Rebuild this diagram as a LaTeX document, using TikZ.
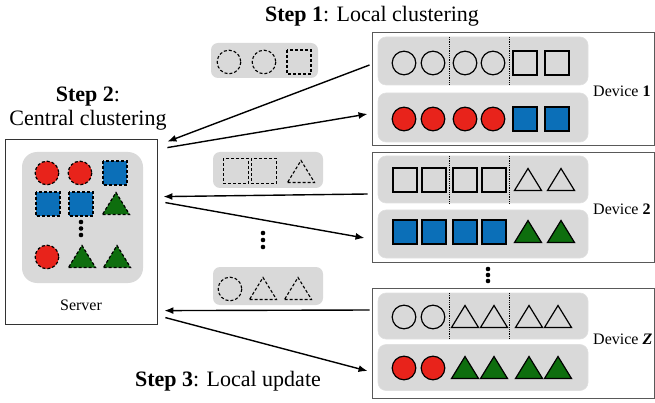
\documentclass[tikz,border=0pt]{standalone}
\usepackage{fontspec}
\setmainfont{LiberationSerif}[Extension=.ttf,UprightFont=*-Regular,BoldFont=*-Bold,ItalicFont=*-Italic,BoldItalicFont=*-BoldItalic]
\usetikzlibrary{arrows.meta,calc}

\definecolor{cred}{HTML}{E8231B}
\definecolor{cblue}{HTML}{0B6FB8}
\definecolor{cgreen}{HTML}{0E6E0E}
\definecolor{panelgray}{HTML}{D9D9D9}

\tikzset{
  % basic glyphs, centred on the pic position
  ci/.pic={\path[pic actions] (0,0) circle[radius=11.8];},
  sq/.pic={\path[pic actions] (-12,-12) rectangle (12,12);},
  tr/.pic={\path[pic actions] (-13.5,10.5) -- (13.5,10.5) -- (0,-11.5) -- cycle;},
  hol/.style={draw=black,line width=1.2pt},
  rf/.style={draw=black,fill=cred,line width=1.2pt},
  bf/.style={draw=black,fill=cblue,line width=1.2pt},
  gf/.style={draw=black,fill=cgreen,line width=1.2pt},
  dsh/.style={draw=black,line width=1.1pt,densely dashed},
  devbox/.style={draw=black!65,line width=1pt,minimum width=282,minimum height=#1,inner sep=0pt},
  panel/.style={fill=panelgray,draw=black!12,line width=0.6pt,rounded corners=8pt,minimum width=210,minimum height=#1,inner sep=0pt},
  msg/.style={fill=panelgray,rounded corners=7pt,inner sep=0pt},
  sep/.style={densely dotted,line width=0.8pt},
  conn/.style={line width=1.4pt,-{Latex[length=9pt,width=7pt]}},
  lbl/.style={font=\fontsize{16}{18}\selectfont,inner sep=0pt},
  big/.style={font=\fontsize{22}{24}\selectfont,inner sep=0pt},
}

\begin{document}
\begin{tikzpicture}[x=1pt,y=-1pt]
\useasboundingbox (0,0) rectangle (655,403);

% ---------------- titles ----------------
\node[big] (step1) at (372,16) {\textbf{Step 1}: Local clustering};
\node[big,align=center] (step2) at (88,108.5) {\textbf{Step 2}:\\Central clustering};
\node[big] (step3) at (228,381) {\textbf{Step 3}: Local update};

% ---------------- server ----------------
\node[draw=black!80,line width=0.8pt,minimum width=152,minimum height=185,inner sep=0pt] (srv) at (81,231.5) {};
\node[fill=panelgray,rounded corners=15pt,minimum width=121,minimum height=131,inner sep=0pt] (srvp) at (82.5,217.5) {};
\node[lbl] (srvl) at (81,305) {Server};
\pic[rf,densely dashed] at (47,173) {ci};
\pic[rf,densely dashed] at (80,173) {ci};
\pic[bf,densely dashed] at (115,173) {sq};
\pic[bf,densely dashed] at (48,204) {sq};
\pic[bf,densely dashed] at (81,204) {sq};
\pic[gf,densely dashed] at (116,204) {tr};
\foreach \yy in {222,228.5,235} \fill (81,\yy) circle[radius=2.3];
\pic[rf,densely dashed] at (47,257) {ci};
\pic[gf,densely dashed] at (82,257) {tr};
\pic[gf,densely dashed] at (117,257) {tr};

% ---------------- transmitted messages ----------------
\node[msg,minimum width=107,minimum height=35] (m1) at (264.5,60.5) {};
\pic[dsh] at (229,62) {ci};
\pic[dsh] at (264,62) {ci};
\pic[dsh] at (299,62) {sq};

\node[msg,minimum width=110,minimum height=36] (m2) at (268,170) {};
\pic[dsh,scale=1.05] at (236,171) {sq};
\pic[dsh,scale=1.05] at (264,171) {sq};
\pic[dsh] at (301,172) {tr};

\node[msg,minimum width=110,minimum height=38] (m3) at (268,286) {};
\pic[dsh] at (230,289) {ci};
\pic[dsh] at (263,289) {tr};
\pic[dsh] at (298,289) {tr};

\foreach \yy in {233,240,247} \fill (263,\yy) circle[radius=2.3];

% ---------------- device 1 ----------------
\node[devbox=113] (dev1) at (513,89.5) {};
\node[panel=48] (d1a) at (483,61) {};
\node[panel=49] (d1b) at (483,117.5) {};
\draw[sep] (449,37) -- (449,85);
\draw[sep] (509,37) -- (509,85);
\foreach \xx in {404,433,465,493} \pic[hol] at (\xx,63) {ci};
\foreach \xx in {525,557} \pic[hol] at (\xx,63) {sq};
\foreach \xx in {404,433,465,493} \pic[rf] at (\xx,119) {ci};
\foreach \xx in {525,557} \pic[bf] at (\xx,119) {sq};
\node[lbl,anchor=west] (d1l) at (593,91) {Device \textbf{1}};

% ---------------- device 2 ----------------
\node[devbox=109] (dev2) at (513,207.5) {};
\node[panel=47] (d2a) at (483,179.5) {};
\node[panel=48] (d2b) at (483,234) {};
\draw[sep] (449,156) -- (449,203);
\draw[sep] (509,156) -- (509,203);
\foreach \xx in {405,434,465,494} \pic[hol] at (\xx,180) {sq};
\foreach \xx in {528,561} \pic[hol] at (\xx,180) {tr};
\foreach \xx in {405,434,465,494} \pic[bf] at (\xx,232) {sq};
\foreach \xx in {528,561} \pic[gf] at (\xx,232) {tr};
\node[lbl,anchor=west] (d2l) at (593,209) {Device \textbf{2}};

\foreach \yy in {269,275,281} \fill (488,\yy) circle[radius=2.3];

% ---------------- device Z ----------------
\node[devbox=110] (devz) at (513,343) {};
\node[panel=46] (dza) at (483,316) {};
\node[panel=46] (dzb) at (483,367.5) {};
\draw[sep] (449,293) -- (449,339);
\draw[sep] (509,293) -- (509,339);
\foreach \xx in {404,433} \pic[hol] at (\xx,317) {ci};
\foreach \xx in {465,494,529,558} \pic[hol] at (\xx,317) {tr};
\foreach \xx in {404,433} \pic[rf] at (\xx,368) {ci};
\foreach \xx in {465,494,529,558} \pic[gf] at (\xx,368) {tr};
\node[lbl,anchor=west] (dzl) at (593,339) {Device \textbf{\textit{Z}}};

% ---------------- connectors ----------------
\draw[conn] ($(dev1.west)+(-2,-24.5)$) -- ($(srv.north east)+(10,3)$);
\draw[conn] ($(srv.north east)+(10,9)$) -- ($(dev1.west)+(-4,24.5)$);
\draw[conn] ($(dev2.west)+(-4,-13.5)$) -- ($(srv.north east)+(6,58)$);
\draw[conn] ($(srv.north east)+(8,64)$) -- ($(dev2.west)+(-7,30.5)$);
\draw[conn] ($(devz.west)+(-2,-33)$) -- ($(srv.north east)+(7,172)$);
\draw[conn] ($(srv.north east)+(8,179)$) -- ($(devz.west)+(-4,28)$);
\end{tikzpicture}
\end{document}
